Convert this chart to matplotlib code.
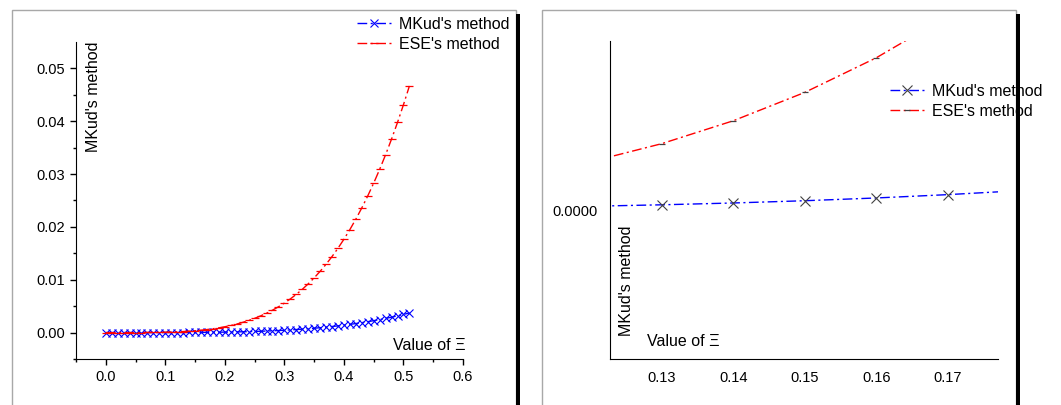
import numpy as np
import matplotlib
matplotlib.use('Agg')
import matplotlib.pyplot as plt
from matplotlib.patches import Rectangle

plt.rcParams['font.family'] = ['Liberation Sans', 'DejaVu Sans']

# values of Xi, step 0.01
xi = [0.00, 0.01, 0.02, 0.03, 0.04, 0.05, 0.06, 0.07, 0.08, 0.09,
      0.10, 0.11, 0.12, 0.13, 0.14, 0.15, 0.16, 0.17, 0.18, 0.19,
      0.20, 0.21, 0.22, 0.23, 0.24, 0.25, 0.26, 0.27, 0.28, 0.29,
      0.30, 0.31, 0.32, 0.33, 0.34, 0.35, 0.36, 0.37, 0.38, 0.39,
      0.40, 0.41, 0.42, 0.43, 0.44, 0.45, 0.46, 0.47, 0.48, 0.49,
      0.50, 0.51]

mkud = [0.0, 5.5e-10, 8.8e-9, 4.46e-8, 1.41e-7, 3.44e-7, 7.13e-7, 1.321e-6, 2.253e-6, 3.609e-6,
        5.50e-6, 8.05e-6, 1.140e-5, 1.571e-5, 2.113e-5, 2.784e-5, 3.604e-5, 4.594e-5, 5.774e-5, 7.168e-5,
        8.80e-5, 1.0696e-4, 1.2884e-4, 1.5391e-4, 1.8248e-4, 2.1484e-4, 2.5134e-4, 2.9229e-4, 3.3806e-4, 3.8900e-4,
        4.4550e-4, 5.0794e-4, 5.7672e-4, 6.5226e-4, 7.3498e-4, 8.2534e-4, 9.2379e-4, 1.03079e-3, 1.14682e-3, 1.27239e-3,
        1.40800e-3, 1.55417e-3, 1.71143e-3, 1.88034e-3, 2.06145e-3, 2.25534e-3, 2.46260e-3, 2.68382e-3, 2.91963e-3, 3.17064e-3,
        3.43750e-3, 3.72086e-3]

ese = [0.0, 6.9e-9, 1.10e-7, 5.59e-7, 1.77e-6, 4.31e-6, 8.94e-6, 1.657e-5, 2.826e-5, 4.527e-5,
       6.90e-5, 1.0102e-4, 1.4308e-4, 1.9707e-4, 2.6507e-4, 3.4931e-4, 4.5220e-4, 5.7629e-4, 7.2433e-4, 8.9921e-4,
       1.1040e-3, 1.3419e-3, 1.6164e-3, 1.9309e-3, 2.2893e-3, 2.6953e-3, 3.1531e-3, 3.6669e-3, 4.2411e-3, 4.8802e-3,
       5.5890e-3, 6.3723e-3, 7.2352e-3, 8.1829e-3, 9.2207e-3, 1.03543e-2, 1.15894e-2, 1.29317e-2, 1.43874e-2, 1.59627e-2,
       1.76640e-2, 1.94977e-2, 2.14707e-2, 2.35897e-2, 2.58619e-2, 2.82943e-2, 3.08944e-2, 3.36698e-2, 3.66281e-2, 3.97771e-2,
       4.31250e-2, 4.66799e-2]

labels = ["MKud's method", "ESE's method"]
xlabel = "Value of \u039e"
ylabel = "MKud's method"

left_xticks = [0.0, 0.1, 0.2, 0.3, 0.4, 0.5, 0.6]
left_yticks = [0.00, 0.01, 0.02, 0.03, 0.04, 0.05]
right_xticks = [0.13, 0.14, 0.15, 0.16, 0.17]
right_yticks = [0.0]

W, H = 1061, 405
fig = plt.figure(figsize=(W / 100, H / 100), dpi=100)


def fx(px):
    return px / W


def fy(py):
    return 1 - py / H


dash = (0, (7, 2.5, 1.5, 2.5))

# panel frames with the black shadow bar on the right
for x0, x1 in [(12, 516), (542, 1016)]:
    fig.patches.append(Rectangle((fx(x0), -0.05), fx(x1 - x0), fy(10) + 0.05,
                                 transform=fig.transFigure, fill=False,
                                 edgecolor='#a8a8a8', lw=1))
    fig.patches.append(Rectangle((fx(x1), 0), fx(4), fy(14),
                                 transform=fig.transFigure, color='black', lw=0))

# ---- left panel
ax1 = fig.add_axes([fx(76), fy(359), fx(463 - 76), fy(42) - fy(359)])
ax1.plot(xi, mkud, color='blue', ls=dash, lw=1, marker='x', ms=6, mew=0.8,
         label=labels[0])
ax1.plot(xi, ese, color='red', ls=dash, lw=1, marker='_', ms=5.5, mew=0.9,
         label=labels[1])
ax1.set_xlim(-0.05, 0.6)
ax1.set_ylim(-0.005, 0.055)
ax1.set_xticks(left_xticks)
ax1.set_xticklabels(['%.1f' % v for v in left_xticks])
ax1.set_yticks(left_yticks)
ax1.set_yticklabels(['%.2f' % v for v in left_yticks])
ax1.set_xticks(np.arange(-0.05, 0.6, 0.1), minor=True)
ax1.set_yticks(np.arange(-0.005, 0.055, 0.01), minor=True)
ax1.tick_params(which='major', direction='out', length=4, width=1, labelsize=10.5, pad=4)
ax1.tick_params(which='minor', direction='out', length=2.2, width=1)
for s in ['top', 'right']:
    ax1.spines[s].set_visible(False)
ax1.patch.set_alpha(0)
fig.text(fx(93.5), fy(42), ylabel, rotation=90, ha='center', va='top', fontsize=11.5)
fig.text(fx(393), fy(345), xlabel, ha='left', va='center', fontsize=11.5)
ax1.legend(loc='upper left', bbox_to_anchor=(fx(357), fy(17)),
           bbox_transform=fig.transFigure, frameon=False, fontsize=11.5,
           handlelength=2.1, handletextpad=0.5, borderpad=0, borderaxespad=0,
           labelspacing=0.3)

# ---- right panel (zoom)
ax2 = fig.add_axes([fx(610), fy(359), fx(998 - 610), fy(41) - fy(359)])
ax2.plot(xi, mkud, color='blue', ls=dash, lw=1, marker='x', ms=6.5, mew=0.8,
         mec='#404040', label=labels[0])
ax2.plot(xi, ese, color='red', ls=dash, lw=1, marker='_', ms=5, mew=0.9,
         mec='#404040', label=labels[1])
ax2.set_xlim(0.1228, 0.177)
ax2.set_ylim(-0.000442, 0.000502)
ax2.set_xticks(right_xticks)
ax2.set_xticklabels(['%.2f' % v for v in right_xticks])
ax2.set_yticks(right_yticks)
ax2.set_yticklabels(['%.4f' % v for v in right_yticks])
ax2.tick_params(length=0, labelsize=10.5, pad=9)
for s in ['top', 'right']:
    ax2.spines[s].set_visible(False)
ax2.patch.set_alpha(0)
fig.text(fx(626.5), fy(225), ylabel, rotation=90, ha='center', va='top', fontsize=11.5)
fig.text(fx(647), fy(342), xlabel, ha='left', va='center', fontsize=11.5)
ax2.legend(loc='upper left', bbox_to_anchor=(fx(890), fy(84)),
           bbox_transform=fig.transFigure, frameon=False, fontsize=11.5,
           handlelength=2.1, handletextpad=0.5, borderpad=0, borderaxespad=0,
           labelspacing=0.3)

fig.savefig('out.png', dpi=100)
